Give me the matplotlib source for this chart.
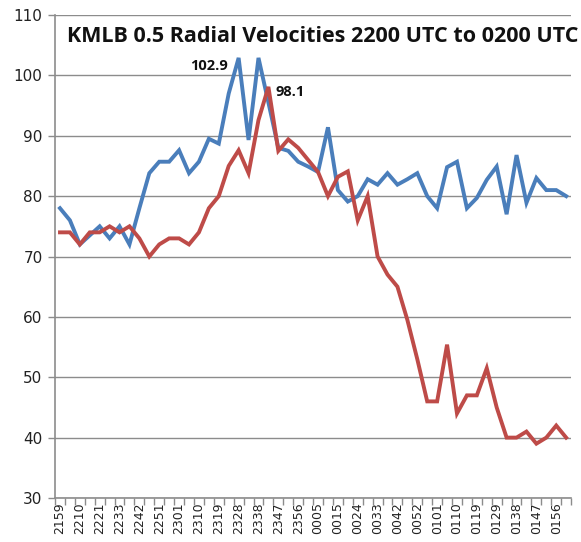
import matplotlib
matplotlib.use("Agg")
import matplotlib.pyplot as plt
import numpy as np

# ---- data ----
tick_labels = ["2159", "2210", "2221", "2233", "2242", "2251", "2301", "2310", "2319",
               "2328", "2338", "2347", "2356", "0005", "0015", "0024", "0033", "0042",
               "0052", "0101", "0110", "0119", "0129", "0138", "0147", "0156"]

blue_vals = [78, 76, 72, 73.5, 75, 73, 75, 72, 78, 83.8,
             85.7, 85.7, 87.6, 83.8, 85.7, 89.5, 88.7, 97, 102.9, 89.3,
             102.9, 95.5, 88, 87.5, 85.7, 84.9, 84, 91.4, 81, 79.1,
             80, 82.8, 81.9, 83.8, 81.9, 82.8, 83.8, 80, 78, 84.8,
             85.7, 78, 79.7, 82.7, 84.9, 77, 86.8, 78.9, 83, 81,
             81, 80]

red_vals = [74, 74, 72, 74, 74, 75, 74, 75, 73, 70,
            72, 73, 73, 72, 74, 78, 80, 85, 87.6, 83.8,
            92.6, 98.1, 87.5, 89.4, 88, 86, 84, 80, 83.2, 84.1,
            76, 80, 70, 67, 65, 59.5, 53, 46, 46, 55.4,
            44, 47, 47, 51.5, 45, 40, 40, 41, 39, 40,
            42, 40]

title = "KMLB 0.5 Radial Velocities 2200 UTC to 0200 UTC"
ann_blue = "102.9"
ann_red = "98.1"

# ---- plot ----
fig = plt.figure(figsize=(5.81, 5.42), dpi=100)
ax = fig.add_axes([0.0947, 0.0812, 0.8883, 0.8911])

x = np.arange(len(blue_vals))
ax.plot(x, blue_vals, color="#4A7EBB", lw=2.8, solid_joinstyle="miter", zorder=3)
ax.plot(x, red_vals, color="#BE4B48", lw=2.8, solid_joinstyle="miter", zorder=4)

n = len(blue_vals)
ax.set_xlim(-0.5, n - 0.5)
ax.set_ylim(30, 110)
ax.set_yticks(np.arange(30, 111, 10))
ax.yaxis.grid(True, color="#8c8c8c", lw=1.0)
ax.set_axisbelow(True)

# category labels every second point, tick marks at category boundaries
ax.set_xticks(np.arange(0, n, 2)[:len(tick_labels)])
ax.set_xticklabels(tick_labels, rotation=90, fontsize=9, color="#222222",
                   family="DejaVu Sans")
ax.tick_params(axis="x", length=0, pad=3)
ax.set_xticks(np.arange(-0.5, n, 1), minor=True)
ax.tick_params(axis="x", which="minor", length=5, color="#8c8c8c", width=1)
ax.tick_params(axis="y", length=5, color="#8c8c8c", width=1, labelsize=11,
               labelcolor="#222222", pad=4)

for s in ["top", "right"]:
    ax.spines[s].set_visible(False)
for s in ["left", "bottom"]:
    ax.spines[s].set_color("#8c8c8c")
    ax.spines[s].set_linewidth(1.2)

fig.text(0.995, 0.932, title, ha="right", va="center",
         fontsize=15.5, fontweight="bold", family="Open Sans", color="#111111")

ax.text(16.9, 101.5, ann_blue, ha="right", va="center", fontsize=10.5,
        fontweight="bold", family="Open Sans", color="#111111")
ax.text(21.7, 97.3, ann_red, ha="left", va="center", fontsize=10.5,
        fontweight="bold", family="Open Sans", color="#111111")

fig.savefig("out.png", dpi=100)
